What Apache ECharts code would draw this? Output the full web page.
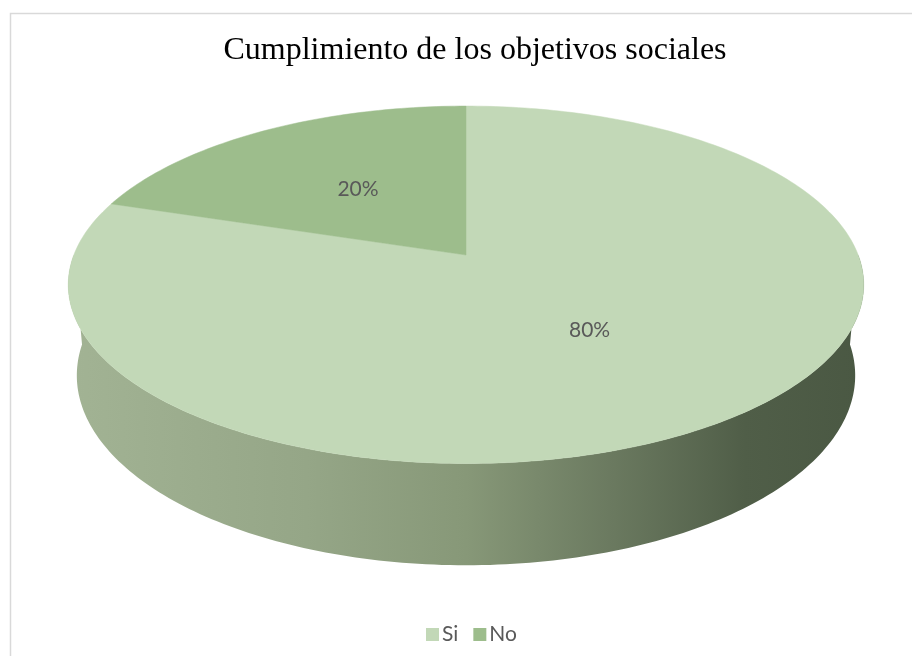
<!DOCTYPE html>
<html>
<head>
<meta charset="utf-8">
<script src="https://cdn.jsdelivr.net/npm/echarts@6/dist/echarts.min.js"></script>
<style>
html,body{margin:0;padding:0;background:#fff;}
#chart{width:912px;height:656px;}
</style>
</head>
<body>
<div id="chart"></div>
<script>
// datos del grafico
var categorias = ['Si', 'No'];
var valores = [80, 20];
var etiquetas = ['80%', '20%'];
var colores = ['#c2d8b7', '#9dbd8c'];

var total = 0;
for (var i = 0; i < valores.length; i++) total += valores[i];

// parametros de la vista 3D (perspectiva simple)
var cx = 466, cy0 = 255;
var alfa = 26.3 * Math.PI / 180;
var sa = Math.sin(alfa), ca = Math.cos(alfa);
var D = 5.38, f = 2110, H = 0.26;

function proj(ang, r, z) {
    // ang en grados, sentido horario desde las 12
    var a = ang * Math.PI / 180;
    var X = r * Math.sin(a), Y = r * Math.cos(a);
    var yUp = Y * sa + z * ca;
    var depth = D + Y * ca - z * sa;
    return [cx + f * X / depth, cy0 - f * yUp / depth];
}

function angulos(idx) {
    var acc = 0;
    for (var k = 0; k < idx; k++) acc += valores[k];
    return [acc / total * 360, (acc + valores[idx]) / total * 360];
}

function renderSlice(idx) {
    return function (params, api) {
        var a = angulos(idx);
        var hijos = [];
        // pared lateral visible (parte delantera)
        var s0 = Math.max(a[0], 90), s1 = Math.min(a[1], 270);
        if (s1 > s0) {
            var pts = [];
            for (var t = s0; t <= s1 + 0.001; t += 1) pts.push(proj(Math.min(t, s1), 1, 0));
            for (var t2 = s1; t2 >= s0 - 0.001; t2 -= 1) pts.push(proj(Math.max(t2, s0), 1, -H));
            hijos.push({
                type: 'polygon',
                shape: {points: pts},
                style: {
                    fill: {
                        type: 'linear', x: 0, y: 0, x2: 1, y2: 0,
                        colorStops: [
                            {offset: 0, color: '#a2b394'},
                            {offset: 0.3, color: '#95a687'},
                            {offset: 0.5, color: '#879878'},
                            {offset: 0.68, color: '#6b7a60'},
                            {offset: 0.85, color: '#505e48'},
                            {offset: 1, color: '#4a5843'}
                        ]
                    }
                }
            });
        }
        // cara superior
        var top = [proj(0, 0, 0)];
        for (var u = a[0]; u <= a[1] + 0.001; u += 1) top.push(proj(Math.min(u, a[1]), 1, 0));
        hijos.push({
            type: 'polygon',
            shape: {points: top},
            style: {fill: colores[idx], stroke: colores[idx], lineWidth: 0.5}
        });
        // etiqueta
        var pm = proj((a[0] + a[1]) / 2, 0.5, 0);
        hijos.push({
            type: 'text',
            style: {
                text: etiquetas[idx], x: pm[0], y: pm[1],
                align: 'center', verticalAlign: 'middle',
                fill: '#595959', font: '21px Lato'
            }
        });
        return {type: 'group', children: hijos};
    };
}

var series = [];
for (var i = 0; i < categorias.length; i++) {
    series.push({
        name: categorias[i],
        type: 'custom',
        coordinateSystem: 'none',
        itemStyle: {color: colores[i]},
        renderItem: renderSlice(i),
        data: [valores[i]]
    });
}

var myChart = echarts.init(document.getElementById('chart'));
var option = {
    animation: false,
    title: {
        text: 'Cumplimiento de los objetivos sociales',
        left: 470, top: 30, textAlign: 'center',
        textStyle: {fontFamily: 'Liberation Serif', fontWeight: 'normal', fontSize: 32, color: '#000'}
    },
    legend: {
        data: categorias,
        left: 421, top: 619,
        icon: 'rect', itemWidth: 13, itemHeight: 13, itemGap: 15,
        textStyle: {fontFamily: 'Lato', fontSize: 21, color: '#595959', padding: [0, 0, 0, -2]}
    },
    graphic: [{
        type: 'rect',
        shape: {x: 10.5, y: 13.5, width: 1000, height: 1000},
        style: {fill: 'none', stroke: '#d9d9d9', lineWidth: 1.5},
        silent: true
    }],
    series: series
};
myChart.setOption(option);
</script>
</body>
</html>
